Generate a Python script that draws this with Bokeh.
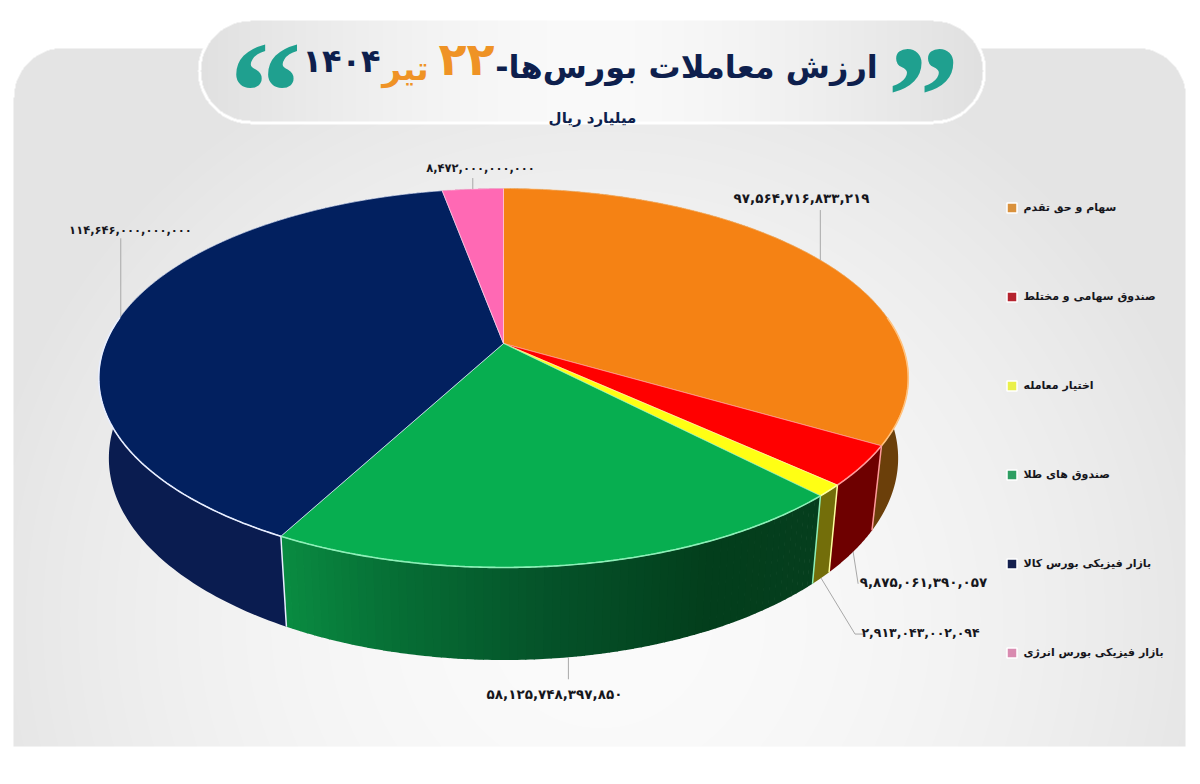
import numpy as np
from bokeh.plotting import figure
from bokeh.models import Range1d, Legend, LegendItem, ColumnDataSource
from bokeh.core.properties import value
from bokeh.embed import file_html
from bokeh.resources import INLINE

# ---- data ----
categories = ["سهام و حق تقدم", "صندوق سهامی و مختلط", "اختیار معامله",
              "صندوق های طلا", "بازار فیزیکی بورس کالا", "بازار فیزیکی بورس انرژی"]
values = [97564716833219, 9875061390057, 2913043002094,
          58125748397850, 114646000000000, 8472000000000]
top_colors = ["#f58214", "#ff0000", "#ffff14", "#07ae50", "#02205f", "#ff69b4"]
wall_colors = ["#6b3f0a", "#6e0000", "#736e0a", "#06602f", "#0a1c50", "#8a2f5f"]
edge_colors = ["#ffc27f", "#ff9a9a", "#ffffa0", "#8df0b8", "#e8eeff", "#ffd0e8"]
legend_colors = ["#d9913c", "#b5232e", "#eaf04a", "#2e9e62", "#15204e", "#d98bb0"]
title_main = "ارزش معاملات بورس‌ها-\u200f"
title_day = "۲۲"
title_month = "تیر"
title_year = "۱۴۰۴"
subtitle = "میلیارد ریال"

FONT = "DejaVu Sans"
NAVY = "#0e1f4d"
ORANGE = "#ef9325"
TEAL = "#1fa08f"

# ---- geometry of the perspective pie (page pixels) ----
CX, CY, A, B, K = 503.0, 343.0, 398.0, 183.2, 0.182
BX, BD, BY = 0.975, 78.0, 1.065


def Y(py):
    return 784 - np.asarray(py, dtype=float)


def rim(theta, lower=False):
    u, v = np.sin(theta), -np.cos(theta)
    d = 1 - K * v
    dx, dy = A * u / d, B * v / d
    if lower:
        return CX + BX * dx, CY + BD + BY * dy
    return CX + dx, CY + dy


total = float(sum(values))
edges = np.concatenate([[0.0], np.cumsum(values) / total]) * 2 * np.pi


def to_persian(n):
    return f"{n:,}".translate(str.maketrans("0123456789", "۰۱۲۳۴۵۶۷۸۹"))


p = figure(width=1190, height=760, output_backend="svg", toolbar_location=None,
           x_range=Range1d(0, 1190), y_range=Range1d(24, 784), min_border=0,
           background_fill_color="white", border_fill_color="white", outline_line_color=None)
p.axis.visible = False
p.grid.visible = False

# ---- background panel and title pill ----
W, H = 1172, 698
yy, xx = np.mgrid[0:H, 0:W]
px, py = xx + 13.0, 746.0 - yy
g = 251 - 23 * np.clip(np.hypot((px - 600) / 640, (py - 620) / 620), 0, 1.0) ** 1.8
r = 50
dxc = np.maximum(np.maximum(63 - px, px - 1135), 0)
dyc = np.maximum(98 - py, 0)
mask = np.hypot(dxc, dyc) <= r
img = np.zeros((H, W, 4), dtype=np.uint8)
img[..., 0] = img[..., 1] = img[..., 2] = g.astype(np.uint8)
img[..., 3] = mask * 255
p.image_rgba(image=[img.view(np.uint32).reshape(H, W)], x=13, y=Y(746), dw=W, dh=H)

W2, H2 = 788, 106
yy, xx = np.mgrid[0:H2, 0:W2]
px, py = xx + 197.0, 124.0 - yy
g2 = 250 - 26 * (np.abs(px - 590) / 394) ** 1.5
r2 = 53
dx2 = np.maximum(np.maximum(250 - px, px - 932), 0)
dy2 = np.abs(py - 71)
d2 = np.hypot(dx2, dy2)
g2 = np.where(d2 > r2 - 3, 255, g2)
img2 = np.zeros((H2, W2, 4), dtype=np.uint8)
img2[..., 0] = img2[..., 1] = img2[..., 2] = g2.astype(np.uint8)
img2[..., 3] = (d2 <= r2) * 255
p.image_rgba(image=[img2.view(np.uint32).reshape(H2, W2)], x=197, y=Y(124), dw=W2, dh=H2)

# ---- walls ----
green_stops_f = [0.0, 0.25, 0.55, 0.8, 1.0]
for i in range(len(values)):
    t0, t1 = edges[i], edges[i + 1]
    if i == 3:
        # walk right-to-left along the front: yellow side dark, navy side bright
        n = 70
        ts = np.linspace(t0, t1, n + 1)
        xs, ys, cs = [], [], []
        stops = np.array([[6, 62, 30], [3, 62, 28], [5, 84, 42], [7, 112, 54], [10, 140, 66]], float)
        for j in range(n):
            seg = np.linspace(ts[j], ts[j + 1] + 0.002, 3)
            x1, y1 = rim(seg)
            x2, y2 = rim(seg, True)
            xs.append(np.r_[x1, x2[::-1]])
            ys.append(Y(np.r_[y1, y2[::-1]]))
            f = (j + 0.5) / n
            c = [np.interp(f, green_stops_f, stops[:, k]) for k in range(3)]
            cs.append("#%02x%02x%02x" % tuple(int(v) for v in c))
        p.patches(xs, ys, fill_color=cs, line_color=None)
    else:
        seg = np.linspace(t0, t1, 160)
        x1, y1 = rim(seg)
        x2, y2 = rim(seg, True)
        p.patch(np.r_[x1, x2[::-1]], Y(np.r_[y1, y2[::-1]]), fill_color=wall_colors[i], line_color=None)

# boundary lines on the front walls
for i in range(1, len(values)):
    if np.cos(edges[i]) < 0.2:
        x1, y1 = rim(edges[i])
        x2, y2 = rim(edges[i], True)
        p.line([x1, x2], Y([y1, y2]), line_color=edge_colors[i], line_width=1.5)

# ---- top faces ----
tops = []
for i in range(len(values)):
    seg = np.linspace(edges[i], edges[i + 1], 200)
    x1, y1 = rim(seg)
    xs = np.r_[CX, x1]
    ys = Y(np.r_[CY, y1])
    tops.append(p.patch(xs, ys, fill_color=top_colors[i], line_color=edge_colors[i],
                        line_width=0.8, line_alpha=0.9, line_join="round"))
    front = seg[-np.cos(seg) > -0.15]
    if len(front) > 1:
        fx, fy = rim(front)
        p.line(fx, Y(fy), line_color=edge_colors[i], line_width=1.6)

# ---- leader lines and value labels ----
leader_lower = [False, True, True, True, False, False]
leader_offsets = [[(0, -50)], [(5, 32)], [(34, 56), (42, 56)], [(0, 22)], [(0, -78)], [(0, -11)]]
label_pos = [(801, 197), (923, 581), (920, 632), (554, 693), (130, 229), (480, 167)]
label_sizes = ["13.5px", "13.5px", "12.5px", "13.5px", "11.5px", "11.5px"]
for i in range(len(values)):
    mid = (edges[i] + edges[i + 1]) / 2
    x0, y0 = rim(mid, leader_lower[i])
    xs = [x0] + [x0 + o[0] for o in leader_offsets[i]]
    ys = [y0] + [y0 + o[1] for o in leader_offsets[i]]
    p.line(xs, Y(ys), line_color="#a8a8a8", line_width=1)

lab = ColumnDataSource(dict(x=[q[0] for q in label_pos], y=Y([q[1] for q in label_pos]),
                            t=[to_persian(v) for v in values], s=label_sizes))
p.text("x", "y", text="t", source=lab, text_font=value(FONT), text_font_style="bold",
       text_font_size="s", text_color="#16161c", text_align="center", text_baseline="middle")

# ---- title ----
def label(x, y, s, size, color, font=FONT, align="center"):
    p.text([x], Y([y]), text=[s], text_font=value(font), text_font_style="bold",
           text_font_size=f"{size}px", text_color=color, text_align=align, text_baseline="middle")


label(686, 66, title_main, 32, NAVY)
label(466, 58, title_day, 46, ORANGE)
label(405, 68, title_month, 33, ORANGE)
label(341, 60, title_year, 32, NAVY)
label(923, 95, "”", 145, TEAL, "Liberation Serif")
label(265, 90, "“", 145, TEAL, "Liberation Serif")
label(592, 117, subtitle, 15, NAVY)

# ---- legend ----
items = []
for i, cat in enumerate(categories):
    r_ = p.scatter(x=[-100], y=[-100], marker="square", size=10, fill_color=legend_colors[i],
                   line_color="white", line_width=1.5)
    items.append(LegendItem(label=cat, renderers=[r_]))
leg = Legend(items=items, location=(998.5, 95.5), orientation="vertical", spacing=64,
             padding=0, margin=0, glyph_width=25, glyph_height=25, label_height=16,
             label_standoff=0, background_fill_alpha=0, border_line_color=None,
             label_text_font=FONT, label_text_font_style="bold", label_text_font_size="11px",
             label_text_color="#16161c")
p.add_layout(leg)

open("out.html", "w").write(file_html(p, INLINE))
